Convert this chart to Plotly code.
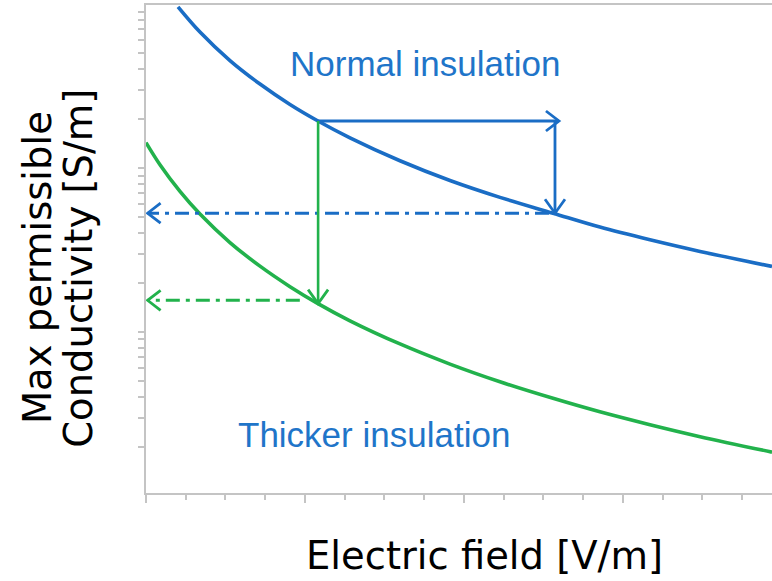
import plotly.graph_objects as go

# ---- data (arbitrary units) ----
normal_E = [0.805, 1.358, 2.113, 2.868, 3.623, 4.327, 5.132, 6.39, 7.648, 8.906, 10.24, 11.42, 12.68, 13.94, 15.75]
normal_sigma = [96.2, 67.5, 45.2, 32.5, 24.4, 19.35, 15.27, 11.07, 8.39, 6.62, 5.30, 4.36, 3.65, 3.10, 2.51]

thick_E = [0.0, 0.352, 0.855, 1.358, 2.113, 2.868, 3.623, 4.327, 5.132, 6.39, 7.648, 8.906, 10.24, 11.42, 12.68, 13.94, 15.75]
thick_sigma = [14.29, 10.47, 7.20, 5.24, 3.51, 2.52, 1.89, 1.49, 1.17, 0.845, 0.637, 0.497, 0.394, 0.326, 0.272, 0.230, 0.185]

# operating points used by the arrows
E_low = 4.33          # field with normal insulation
E_high = 10.29        # field reached at same conductivity limit
E_tip = 10.39         # horizontal arrow tip
sigma_start = 19.35   # conductivity at E_low on normal curve
sigma_normal_high = 5.30   # normal curve at E_high
sigma_thick_low = 1.49     # thicker curve at E_low
sigma_thick_dash = 1.56    # level of green dash-dot projection
E_thick_dash_end = 3.87
E_axis = 0.04

x_range = [0, 15.75]
y_log_range = [-0.982, 1.994]

BLUE = "#1a6dc5"
TEXT_BLUE = "#1f75c9"
GREEN = "#22b24c"
GREY = "#c4c4c4"

fig = go.Figure()

fig.add_trace(go.Scatter(x=normal_E, y=normal_sigma, mode="lines",
                         line=dict(color=BLUE, width=3.6, shape="spline", smoothing=1.0),
                         hoverinfo="skip", showlegend=False))
fig.add_trace(go.Scatter(x=thick_E, y=thick_sigma, mode="lines",
                         line=dict(color=GREEN, width=3.6, shape="spline", smoothing=1.0),
                         hoverinfo="skip", showlegend=False))

# arrow shafts
fig.add_trace(go.Scatter(x=[E_low, E_tip], y=[sigma_start, sigma_start], mode="lines",
                         line=dict(color=BLUE, width=2.8), hoverinfo="skip", showlegend=False))
fig.add_trace(go.Scatter(x=[E_high, E_high], y=[sigma_start, sigma_normal_high], mode="lines",
                         line=dict(color=BLUE, width=2.8), hoverinfo="skip", showlegend=False))
fig.add_trace(go.Scatter(x=[E_high - 0.15, E_axis], y=[sigma_normal_high, sigma_normal_high], mode="lines",
                         line=dict(color=BLUE, width=3, dash="14px,6px,4px,6px"),
                         hoverinfo="skip", showlegend=False))
fig.add_trace(go.Scatter(x=[E_low, E_low], y=[sigma_start, sigma_thick_low], mode="lines",
                         line=dict(color=GREEN, width=2.6), hoverinfo="skip", showlegend=False))
fig.add_trace(go.Scatter(x=[E_thick_dash_end, E_axis], y=[sigma_thick_dash, sigma_thick_dash], mode="lines",
                         line=dict(color=GREEN, width=3, dash="14px,6px,4px,6px"),
                         hoverinfo="skip", showlegend=False))

# chevron heads (pixel-sized paths anchored at data points)
def chevron(x, y, direction, color):
    if direction == "right":
        path = "M -13 10 L 0 0 L -13 -10"
    elif direction == "left":
        path = "M 13 10 L 0 0 L 13 -10"
    else:  # down
        path = "M -10 14 L 0 0 L 10 14"
    fig.add_shape(type="path", xref="x", yref="y", xsizemode="pixel", ysizemode="pixel",
                  xanchor=x, yanchor=y, path=path,
                  line=dict(color=color, width=2.8))

chevron(E_tip, sigma_start, "right", BLUE)
chevron(E_high, sigma_normal_high, "down", BLUE)
chevron(E_axis, sigma_normal_high, "left", BLUE)
chevron(E_low, sigma_thick_low, "down", GREEN)
chevron(E_axis, sigma_thick_dash, "left", GREEN)

label_font = dict(family="Liberation Sans, Arial", size=35, color=TEXT_BLUE)
title_font = dict(family="DejaVu Sans", size=38.5, color="black")

fig.add_annotation(text="Normal insulation", xref="paper", yref="paper", x=0.4457, y=0.88,
                   xanchor="center", yanchor="middle", showarrow=False, font=label_font)
fig.add_annotation(text="Thicker insulation", xref="paper", yref="paper", x=0.364, y=0.12,
                   xanchor="center", yanchor="middle", showarrow=False, font=label_font)

fig.add_annotation(text="Electric field [V/m]", xref="paper", yref="paper", x=0.54, y=-0.129,
                   xanchor="center", yanchor="middle", showarrow=False, font=title_font)
fig.add_annotation(text="Max permissible", xref="paper", yref="paper", x=-0.174, y=0.461,
                   xanchor="center", yanchor="middle", textangle=-90, showarrow=False, font=title_font)
fig.add_annotation(text="Conductivity [S/m]", xref="paper", yref="paper", x=-0.109, y=0.461,
                   xanchor="center", yanchor="middle", textangle=-90, showarrow=False, font=title_font)

fig.update_layout(
    width=772, height=581,
    margin=dict(l=146, r=0, t=5, b=88),
    paper_bgcolor="white", plot_bgcolor="white",
    xaxis=dict(range=x_range, showgrid=False, zeroline=False, showticklabels=False,
               showline=True, linecolor=GREY, linewidth=2, mirror=True,
               ticks="outside", dtick=4, tick0=0, ticklen=8, tickwidth=1.5, tickcolor=GREY,
               minor=dict(dtick=1, tick0=0, ticks="outside", ticklen=5, tickwidth=1.5, tickcolor=GREY)),
    yaxis=dict(type="log", range=y_log_range, showgrid=False, zeroline=False, showticklabels=False,
               showline=True, linecolor=GREY, linewidth=2,
               ticks="outside", dtick="D1", ticklen=6, tickwidth=1.5, tickcolor=GREY),
)

fig.write_html("out.html", config={"displayModeBar": False},
               post_script="document.body.style.margin='0px';document.body.style.overflow='hidden';")
